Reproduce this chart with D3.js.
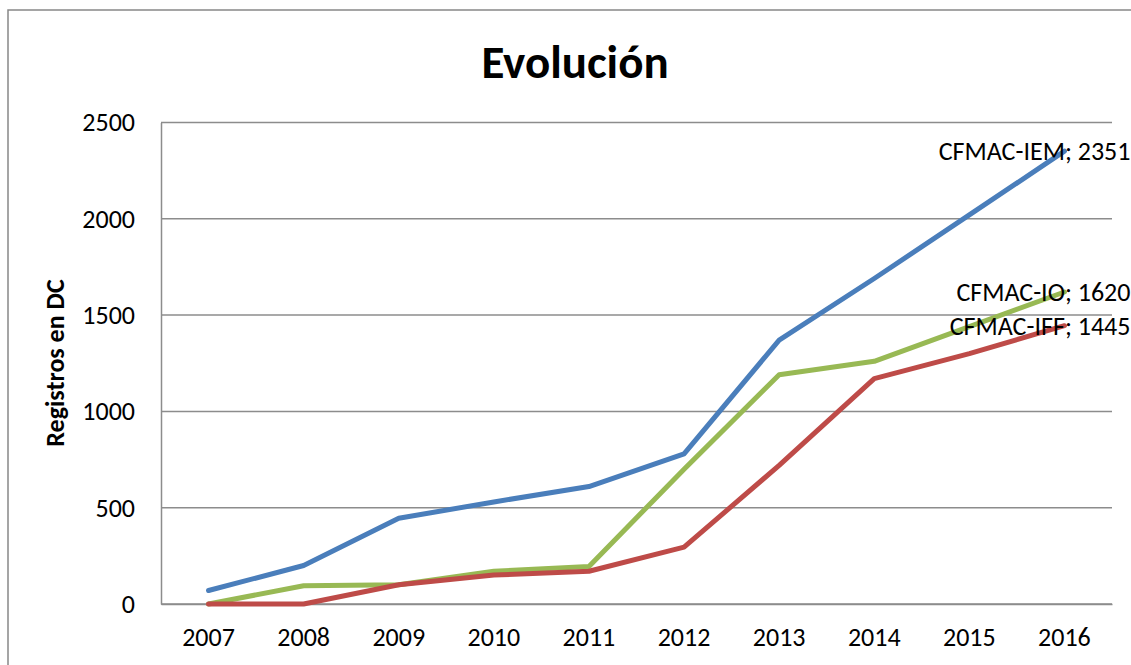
<!DOCTYPE html>
<html>
<head>
<meta charset="utf-8">
<script src="https://cdn.jsdelivr.net/npm/d3@7"></script>
<style>
  body { margin: 0; background: #fff; }
  svg text { font-family: Carlito, Calibri, Lato, sans-serif; }
</style>
</head>
<body>
<script>
const years = ["2007", "2008", "2009", "2010", "2011", "2012", "2013", "2014", "2015", "2016"];
const seriesNames = ["CFMAC-IEM", "CFMAC-IO", "CFMAC-IFF"];
const iem = [70, 200, 445, 530, 610, 780, 1370, 1690, 2020, 2351];
const io = [0, 95, 100, 170, 195, 700, 1190, 1260, 1440, 1620];
const iff = [0, 0, 100, 150, 170, 295, 720, 1170, 1300, 1445];
const yTicks = [0, 500, 1000, 1500, 2000, 2500];
const colors = ["#4A7EBB", "#98B954", "#BE4B48"];

const series = [iem, io, iff].map((values, i) => ({ name: seriesNames[i], values, color: colors[i] }));

const width = 1131, height = 665;
const margin = { top: 122.5, right: 19, bottom: 61, left: 161 };

const svg = d3.select("body")
    .append("svg")
    .attr("width", width)
    .attr("height", height);

// outer chart border (cut off at right and bottom like the reference)
svg.append("rect")
    .attr("x", 8).attr("y", 10)
    .attr("width", width + 20).attr("height", height + 20)
    .attr("fill", "none")
    .attr("stroke", "#888")
    .attr("stroke-width", 1.5);

const x = d3.scaleBand()
    .domain(years)
    .range([margin.left, width - margin.right]);

const y = d3.scaleLinear()
    .domain([0, 2500])
    .range([height - margin.bottom, margin.top]);

const cx = d => x(d) + x.bandwidth() / 2;

// gridlines
svg.append("g")
    .selectAll("line")
    .data(yTicks)
    .join("line")
    .attr("x1", margin.left)
    .attr("x2", width - margin.right)
    .attr("y1", d => y(d))
    .attr("y2", d => y(d))
    .attr("stroke", "#8c8c8c")
    .attr("stroke-width", 1.5);

// y axis
const yAxis = svg.append("g")
    .attr("transform", `translate(${margin.left},0)`)
    .call(d3.axisLeft(y).tickValues(yTicks).tickSize(0).tickPadding(26).tickFormat(d3.format("d")));
yAxis.select(".domain").attr("stroke", "#8c8c8c").attr("stroke-width", 1.5);
yAxis.selectAll("text").attr("font-size", 26).attr("fill", "#000");

// x axis
const xAxis = svg.append("g")
    .attr("transform", `translate(0,${height - margin.bottom})`)
    .call(d3.axisBottom(x).tickSize(0).tickPadding(24));
xAxis.select(".domain").attr("stroke", "#8c8c8c").attr("stroke-width", 1.5);
xAxis.selectAll("text").attr("font-size", 26).attr("fill", "#000");

// title
svg.append("text")
    .attr("x", 575)
    .attr("y", 78)
    .attr("text-anchor", "middle")
    .attr("font-size", 47)
    .attr("font-weight", "bold")
    .text("Evolución");

// y axis label
svg.append("text")
    .attr("transform", `translate(64,363) rotate(-90)`)
    .attr("text-anchor", "middle")
    .attr("font-size", 26)
    .attr("font-weight", "bold")
    .text("Registros en DC");

// lines
const line = d3.line()
    .x((d, i) => cx(years[i]))
    .y(d => y(d));

svg.append("g")
    .selectAll("path")
    .data(series)
    .join("path")
    .attr("d", d => line(d.values))
    .attr("fill", "none")
    .attr("stroke", d => d.color)
    .attr("stroke-width", 5)
    .attr("stroke-linejoin", "round")
    .attr("stroke-linecap", "round");

// end labels
const last = years.length - 1;
svg.append("g")
    .selectAll("text")
    .data(series)
    .join("text")
    .attr("x", cx(years[last]) + 66)
    .attr("y", d => y(d.values[last]))
    .attr("dy", "0.35em")
    .attr("text-anchor", "end")
    .attr("font-size", 26)
    .text(d => `${d.name}; ${d.values[last]}`);
</script>
</body>
</html>
